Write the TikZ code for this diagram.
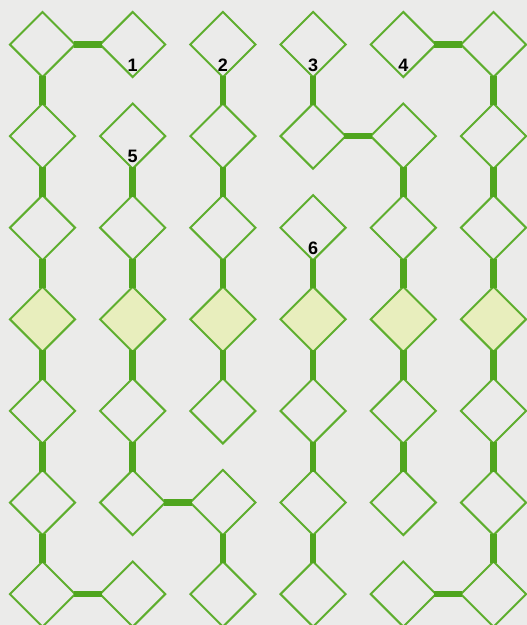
\documentclass[tikz,border=0pt]{standalone}
\usepackage{fontspec}
\setsansfont{Liberation Sans}
\definecolor{pzgreen}{HTML}{4FA51E}
\definecolor{pzline}{HTML}{5EAE2E}
\definecolor{pzpale}{HTML}{E8EEBD}
\definecolor{pzpaper}{HTML}{EBEBEA}
\usetikzlibrary{positioning, shapes.geometric}

\begin{document}
\begin{tikzpicture}[x=1pt, y=1pt,
  cell/.style={diamond, draw=pzline, line width=2pt, minimum width=66pt,
               minimum height=66pt, inner sep=0pt},
  link/.style={line width=6.5pt, pzgreen, shorten <=-3pt, shorten >=-3pt},
  num/.style={font=\sffamily\bfseries\fontsize{18}{18}\selectfont, inner sep=0pt},
]
  \fill[pzpaper] (0,0) rectangle (527,-625);
  \useasboundingbox (0,0) rectangle (527,-625);

  \foreach \c in {1,...,6}
    \foreach \r in {1,2,3,5,6,7}
      \node[cell] (c\c\r) at ({42.5+90.2*(\c-1)}, {-44.5-91.6*(\r-1)}) {};
  \foreach \c in {1,...,6}
    \node[cell, fill=pzpale] (c\c4) at ({42.5+90.2*(\c-1)}, -319.3) {};

  \foreach \a/\b in {11/21, 42/52, 51/61, 26/36, 17/27, 57/67,
                     11/12, 12/13, 13/14, 14/15, 15/16, 16/17,
                     22/23, 23/24, 24/25, 25/26,
                     31/32, 32/33, 33/34, 34/35, 36/37,
                     41/42, 43/44, 44/45, 45/46, 46/47,
                     52/53, 53/54, 54/55, 55/56,
                     61/62, 62/63, 63/64, 64/65, 65/66, 66/67}
    \draw[link] (c\a) -- (c\b);

  \node[num, above=7pt of c21.south] (n1) {1};
  \node[num, above=7pt of c31.south] (n2) {2};
  \node[num, above=7pt of c41.south] (n3) {3};
  \node[num, above=7pt of c51.south] (n4) {4};
  \node[num, above=7pt of c22.south] (n5) {5};
  \node[num, above=7pt of c43.south] (n6) {6};
\end{tikzpicture}
\end{document}
